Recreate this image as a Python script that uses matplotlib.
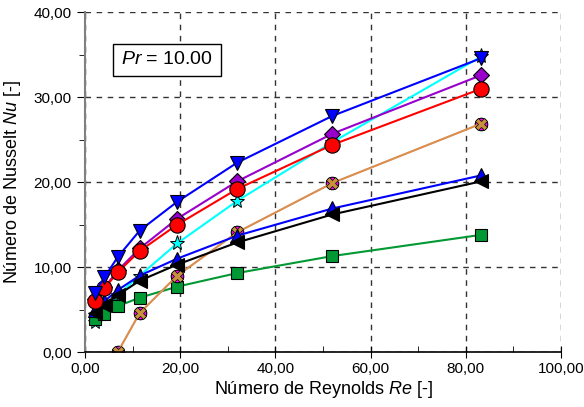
import matplotlib.pyplot as plt
from matplotlib.ticker import MultipleLocator, FuncFormatter

plt.rcParams['font.family'] = ['Liberation Sans', 'DejaVu Sans']
plt.rcParams['mathtext.fontset'] = 'custom'
plt.rcParams['mathtext.rm'] = 'Liberation Sans'
plt.rcParams['mathtext.it'] = 'Liberation Sans:italic'

# Reynolds numbers (same for every series)
re = [2.1, 4.1, 6.9, 11.5, 19.4, 32.0, 52.0, 83.3]

nu_cyan = [3.5, 5.0, 6.7, 9.0, 12.8, 17.8, 24.7, 34.8]
nu_green = [3.9, 4.5, 5.4, 6.4, 7.7, 9.3, 11.3, 13.8]
re_tan = [6.9, 11.5, 19.4, 32.0, 52.0, 83.3]
nu_tan = [0.0, 4.6, 9.0, 14.1, 19.9, 26.9]
nu_blue_up = [5.0, 6.0, 7.3, 9.0, 11.0, 13.7, 16.9, 20.8]
nu_black = [4.6, 5.5, 6.7, 8.4, 10.3, 12.9, 16.2, 20.1]
nu_purple = [6.2, 7.6, 9.6, 12.2, 15.7, 20.1, 25.7, 32.6]
nu_red = [6.0, 7.5, 9.4, 11.9, 15.0, 19.2, 24.4, 31.0]
nu_blue_down = [7.0, 8.8, 11.2, 14.3, 17.7, 22.3, 27.8, 34.6]

fig = plt.figure(figsize=(5.84, 4.07), dpi=100)
ax = fig.add_axes([0.1455, 0.135, 0.815, 0.835])

lw = 1.5
ax.plot(re, nu_cyan, color='#00FFFF', lw=lw, marker='*', ms=11, mfc='#00FFFF', mec='black', mew=0.7)
ax.plot(re, nu_green, color='#009933', lw=lw, marker='s', ms=9, mfc='#009933', mec='black', mew=0.8)
ax.plot(re_tan, nu_tan, color='#FF66FF', lw=1.0, marker='o', ms=9, mfc='#FF00FF', mec='black', mew=0.8)
ax.plot(re_tan, nu_tan, color='#D8904A', lw=lw, marker='X', ms=9, mfc='#C8923C', mec='black', mew=0.5)
ax.plot(re, nu_blue_up, color='#0000FF', lw=lw, marker='^', ms=10, mfc='#0000FF', mec='black', mew=0.8)
ax.plot(re, nu_black, color='black', lw=lw, marker='<', ms=10, mfc='black', mec='black', mew=0.8)
ax.plot(re, nu_purple, color='#9900CC', lw=lw, marker='D', ms=8, mfc='#9900CC', mec='black', mew=0.8)
ax.plot(re, nu_red, color='#FF0000', lw=lw, marker='o', ms=11, mfc='#FF0000', mec='black', mew=0.8)
ax.plot(re, nu_blue_down, color='#0000FF', lw=lw, marker='v', ms=10, mfc='#0000FF', mec='black', mew=0.8)

ax.set_xlim(0, 100)
ax.set_ylim(0, 40)
ax.xaxis.set_major_locator(MultipleLocator(20))
ax.xaxis.set_minor_locator(MultipleLocator(10))
ax.yaxis.set_major_locator(MultipleLocator(10))
ax.yaxis.set_minor_locator(MultipleLocator(5))
fmt = FuncFormatter(lambda v, p: f'{v:.2f}'.replace('.', ','))
ax.xaxis.set_major_formatter(fmt)
ax.yaxis.set_major_formatter(fmt)

ax.grid(True, which='major', ls=(0, (4, 4)), color='#333333', lw=1.0)
ax.set_axisbelow(True)
for s in ['top', 'right']:
    ax.spines[s].set_visible(False)
ax.spines['left'].set_color('#808080')
ax.spines['left'].set_linewidth(1.5)
ax.spines['bottom'].set_linewidth(1.2)
ax.tick_params(axis='y', which='major', direction='out', length=6, labelsize=11, color='black')
ax.tick_params(axis='y', which='minor', direction='out', length=4)
ax.tick_params(axis='x', which='major', direction='inout', length=8, labelsize=11)
ax.tick_params(axis='x', which='minor', direction='in', length=4)

ax.set_xlabel('Número de Reynolds $\\mathit{Re}$ [-]', fontsize=13, labelpad=2)
ax.set_ylabel('Número de Nusselt $\\mathit{Nu}$ [-]', fontsize=13, labelpad=8)

ax.text(17.2, 34.4, '$\\mathit{Pr}$ = 10.00', fontsize=14, ha='center', va='center',
        bbox=dict(boxstyle='square,pad=0.4', fc='white', ec='black', lw=1.0))

fig.savefig('out.png', dpi=100)
